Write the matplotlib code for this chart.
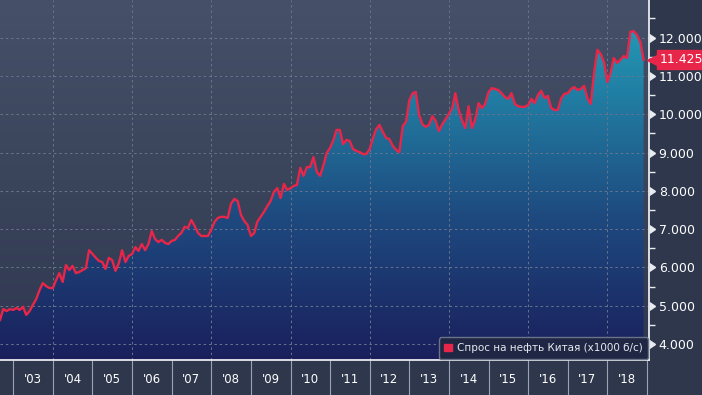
import numpy as np
import pandas as pd
import matplotlib
matplotlib.use("Agg")
import matplotlib.pyplot as plt
import matplotlib.dates as mdates
import matplotlib.transforms as mtransforms
from matplotlib.colors import LinearSegmentedColormap
from matplotlib.patches import Patch
from matplotlib.ticker import FixedLocator, FuncFormatter, MultipleLocator

# China oil demand, monthly, thousand barrels per day (Sep 2002 .. Dec 2018)
demand = [
    4630, 4910, 4860, 4910, 4890, 4940, 4890, 4970, 4760, 4860,
    5020, 5170, 5410, 5590, 5510, 5460, 5460, 5670, 5850, 5620,
    6060, 5930, 6040, 5850, 5880, 5930, 5980, 6450, 6350, 6250,
    6170, 6140, 5960, 6250, 6190, 5910, 6110, 6450, 6140, 6300,
    6350, 6530, 6430, 6610, 6450, 6610, 6950, 6740, 6660, 6720,
    6640, 6610, 6690, 6720, 6820, 6900, 7060, 7030, 7240, 7080,
    6900, 6820, 6820, 6820, 6980, 7190, 7290, 7320, 7320, 7290,
    7660, 7790, 7730, 7370, 7210, 7110, 6820, 6900, 7190, 7320,
    7450, 7600, 7730, 7970, 8070, 7810, 8180, 8020, 8070, 8130,
    8150, 8600, 8390, 8620, 8620, 8880, 8490, 8390, 8670, 8990,
    9120, 9330, 9590, 9590, 9220, 9330, 9300, 9090, 9040, 9010,
    8960, 8960, 9090, 9380, 9610, 9720, 9540, 9380, 9350, 9170,
    9070, 9010, 9690, 9800, 10370, 10550, 10580, 9980, 9740, 9670,
    9720, 9950, 9820, 9560, 9740, 9870, 10010, 10160, 10550, 10110,
    9850, 9640, 10210, 9640, 9870, 10290, 10160, 10270, 10580, 10680,
    10660, 10630, 10550, 10450, 10400, 10550, 10270, 10210, 10190, 10190,
    10240, 10400, 10290, 10500, 10610, 10420, 10480, 10160, 10110, 10110,
    10420, 10530, 10550, 10660, 10710, 10630, 10660, 10740, 10420, 10270,
    11100, 11680, 11570, 11360, 10840, 11100, 11470, 11340, 11420, 11520,
    11470, 12150, 12170, 12070, 11890, 11425,
]
start_month = "2002-09-01"
years = list(range(2003, 2019))
grid_years = list(range(2004, 2019, 2))
y_ticks = list(range(4000, 12001, 1000))
series_name = "Спрос на нефть Китая (x1000 б/с)"
last_label = "11.425"

dates = pd.date_range(start_month, periods=len(demand), freq="MS")
x = mdates.date2num(dates)
y = np.array(demand, dtype=float)

BG = "#2e374b"
RED = "#e8264a"
x0 = mdates.date2num(pd.Timestamp("2002-09-01"))
x1 = mdates.date2num(pd.Timestamp("2019-01-20"))
y0, y1 = 3582, 12982

fig = plt.figure(figsize=(7.02, 3.95), dpi=100, facecolor=BG)
ax = fig.add_axes([0, 0.0886, 0.9245, 0.9114])
ax.set_xlim(x0, x1)
ax.set_ylim(y0, y1)

# plot background gradient
bg_cmap = LinearSegmentedColormap.from_list("bg", ["#2f3850", "#3a445b", "#465068"])
grad = np.linspace(0, 1, 256).reshape(-1, 1)
ax.imshow(grad, extent=[x0, x1, y0, y1], origin="lower", aspect="auto",
          cmap=bg_cmap, zorder=0)

# area fill with vertical gradient, clipped to the area under the line
poly = ax.fill_between(x, y, y0, facecolor="none", edgecolor="none")
fill_cmap = LinearSegmentedColormap.from_list(
    "fill", [(0.0, "#1a1f5c"), (0.4, "#1e4a80"), (0.75, "#2180a5"), (1.0, "#25a2ba")])
im = ax.imshow(grad, extent=[x0, x1, y0, y1], origin="lower", aspect="auto",
               cmap=fill_cmap, zorder=1)
im.set_clip_path(poly.get_paths()[0], transform=ax.transData)

ax.plot(x, y, color=RED, lw=1.7, zorder=3, solid_joinstyle="round")

# grid
grid_kw = dict(color="#6a768c", lw=0.7, ls=(0, (2.5, 3)), zorder=2)
for v in y_ticks:
    ax.axhline(v, **grid_kw)
for yr in grid_years:
    ax.axvline(mdates.date2num(pd.Timestamp(f"{yr}-01-01")), **grid_kw)

# spines
for s in ["left", "top"]:
    ax.spines[s].set_visible(False)
for s in ["right", "bottom"]:
    ax.spines[s].set_color("#e8ebf0")
    ax.spines[s].set_linewidth(1.3)
    ax.spines[s].set_zorder(4)

# x axis: year separators + labels centred in each year
sep = [mdates.date2num(pd.Timestamp(f"{yr}-01-01")) for yr in years + [2019]]
mid = [mdates.date2num(pd.Timestamp(f"{yr}-07-01")) for yr in years]
ax.xaxis.set_major_locator(FixedLocator(sep))
ax.xaxis.set_major_formatter(FuncFormatter(lambda v, p: ""))
ax.xaxis.set_minor_locator(FixedLocator(mid))
ax.xaxis.set_minor_formatter(FuncFormatter(lambda v, p: "'" + mdates.num2date(v).strftime("%y")))
ax.tick_params(axis="x", which="major", direction="out", length=26, width=0.8,
               color="#9aa3b3")
ax.tick_params(axis="x", which="minor", length=0, pad=9, labelsize=8.5,
               labelcolor="white")

# y axis on the right
ax.yaxis.tick_right()
ax.yaxis.set_major_locator(FixedLocator(y_ticks))
ax.yaxis.set_major_formatter(FuncFormatter(lambda v, p: f"{v:,.0f}".replace(",", ".")))
ax.yaxis.set_minor_locator(MultipleLocator(500))
ax.tick_params(axis="y", which="major", length=0, pad=7, labelsize=9,
               labelcolor="white")
ax.tick_params(axis="y", which="minor", direction="out", length=4, width=1,
               color="#e8ebf0")
trans = mtransforms.blended_transform_factory(ax.transAxes, ax.transData)
ax.plot([1.0] * len(y_ticks), y_ticks, ls="none", marker=matplotlib.markers.CARETRIGHTBASE,
        ms=6, color="#e8ebf0", transform=trans, clip_on=False, zorder=5)

# last value tag
ax.plot([1.006], [y[-1]], ls="none", marker="<", ms=9, color=RED,
        transform=trans, clip_on=False, zorder=5)
ax.text(1.016, y[-1], last_label, transform=trans, va="center", ha="left",
        fontsize=9, color="white", zorder=6,
        bbox=dict(boxstyle="square,pad=0.22", fc=RED, ec=RED))

# legend
leg = ax.legend(handles=[Patch(facecolor=RED, edgecolor=RED, label=series_name)],
                loc="lower right", bbox_to_anchor=(0.999, 0.003), borderaxespad=0,
                fontsize=7.5, handlelength=0.7, handleheight=0.7, handletextpad=0.5,
                borderpad=0.55, frameon=True, fancybox=True, labelcolor="#e6e9ef")
leg.get_frame().set_facecolor("#1f2744")
leg.get_frame().set_edgecolor("#6a7387")
leg.get_frame().set_alpha(1)
leg.set_zorder(6)

fig.savefig("out.png", dpi=100, facecolor=BG)
